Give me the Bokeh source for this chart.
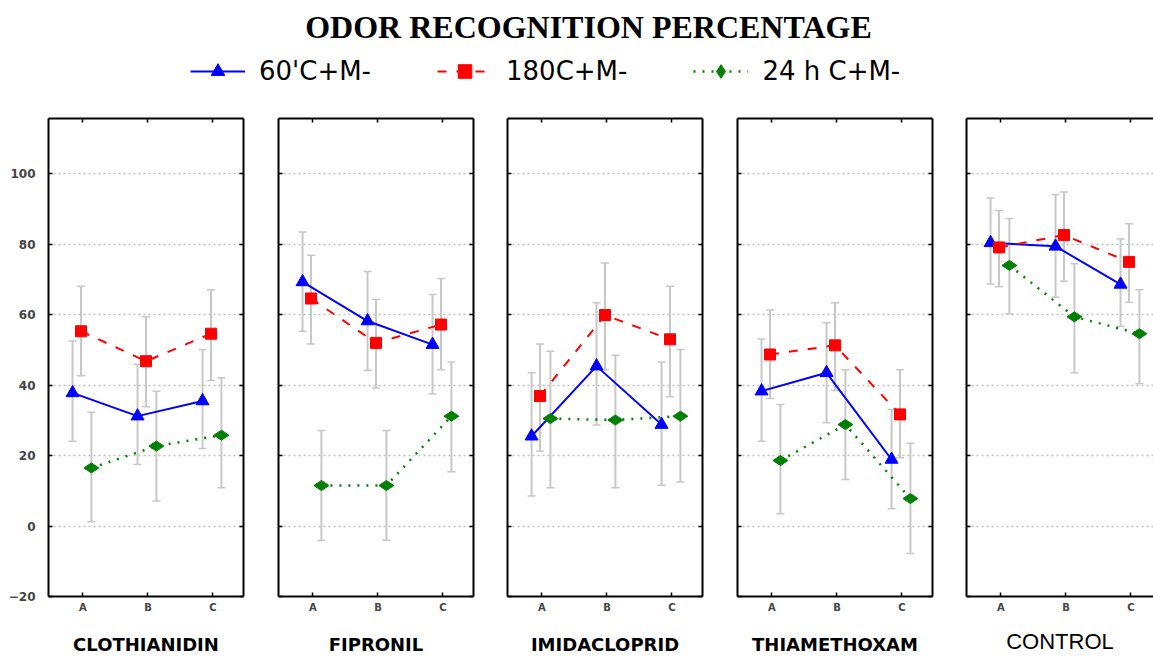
import math
from bokeh.plotting import figure
from bokeh.models import (ColumnDataSource, Whisker, TeeHead, LinearAxis, FixedTicker,
                          Range1d, Legend, LegendItem, Label, Grid)
from bokeh.layouts import column, row
from bokeh.embed import file_html
from bokeh.resources import INLINE

# ---------------- data ----------------
title_text = "ODOR RECOGNITION PERCENTAGE"
categories = ["A", "B", "C"]
panels = ["CLOTHIANIDIN", "FIPRONIL", "IMIDACLOPRID", "THIAMETHOXAM", "CONTROL"]
series_names = ["60'C+M-", "180C+M-", "24 h C+M-"]
y_ticks = [-20, 0, 20, 40, 60, 80, 100]
grid_ticks = [0, 20, 40, 60, 80, 100]

# 60'C+M-  (per panel: A, B, C)
blue_mean = [[37.8, 31.2, 35.5], [69.3, 58.2, 51.5], [25.5, 45.4, 28.8],
             [38.3, 43.5, 18.9], [80.4, 79.4, 68.6]]
blue_hi = [[52.5, 45.9, 50.1], [83.5, 72.3, 65.7], [43.5, 63.4, 46.6],
           [53.1, 57.7, 33.1], [93.1, 94.1, 81.5]]
blue_lo = [[24.1, 17.5, 22.0], [55.3, 44.2, 37.5], [8.5, 28.7, 11.6],
           [24.1, 29.3, 4.9], [68.7, 65.0, 56.7]]

# 180C+M-
red_mean = [[55.3, 46.8, 54.6], [64.6, 52.0, 57.2], [36.9, 59.9, 53.0],
            [48.7, 51.3, 31.7], [79.1, 82.6, 75.0]]
red_hi = [[68.1, 59.4, 67.1], [76.9, 64.3, 70.3], [51.7, 74.7, 68.1],
          [61.3, 63.4, 44.4], [89.6, 94.8, 85.8]]
red_lo = [[42.7, 33.9, 41.3], [51.7, 39.2, 44.4], [21.3, 44.4, 36.7],
          [36.2, 38.5, 19.4], [67.9, 69.5, 63.5]]

# 24 h C+M-
green_mean = [[16.5, 22.7, 25.8], [11.5, 11.5, 31.2], [30.5, 30.1, 31.2],
              [18.6, 28.8, 7.8], [74.0, 59.4, 54.6]]
green_hi = [[32.3, 38.3, 42.1], [27.1, 27.1, 46.6], [49.6, 48.5, 50.1],
            [34.5, 44.4, 23.5], [87.3, 74.5, 67.1]]
green_lo = [[1.2, 7.1, 10.9], [-4.0, -4.0, 15.4], [10.9, 10.9, 12.5],
            [3.5, 13.2, -7.8], [60.3, 43.5, 40.4]]

# ---------------- styles ----------------
series = [
    dict(mean=blue_mean, hi=blue_hi, lo=blue_lo, color="#0000ff", marker="triangle",
         size=13, angle=0.0, dash="solid", width=2, offset=-0.16),
    dict(mean=red_mean, hi=red_hi, lo=red_lo, color="#ff0000", marker="square",
         size=11, angle=0.0, dash="9 10", width=2, offset=-0.03),
    dict(mean=green_mean, hi=green_hi, lo=green_lo, color="#008000", marker="diamond",
         size=15, angle=math.pi / 2, dash="2 7", width=2.5, offset=0.13),
]
ERR = "#c8c8c8"
AX_FONT = "DejaVu Sans"

PX_PER_UNIT = 65.0
X0 = -0.53
HEADER_H = 108
PANEL_H = 657 - HEADER_H


def make_panel(i, name):
    last = i == len(panels) - 1
    left_b = 48 if i == 0 else (18 if i in (1, 3) else 17)
    right_b = 0 if last else 17
    fw = 187 if last else 195
    x1 = X0 + fw / PX_PER_UNIT
    p = figure(width=left_b + fw + right_b, height=PANEL_H,
               x_range=Range1d(X0, x1), y_range=Range1d(-20, 115.7),
               x_axis_type=None, y_axis_type=None, title_location=None,
               output_backend="svg", toolbar_location=None,
               min_border_left=left_b, min_border_right=right_b,
               min_border_top=10, min_border_bottom=60)
    p.outline_line_color = None
    p.background_fill_color = "white"
    p.border_fill_color = "white"

    common = dict(axis_line_color="black", axis_line_width=2,
                  major_tick_in=4, major_tick_out=0,
                  minor_tick_in=0, minor_tick_out=0,
                  major_tick_line_color="black", major_tick_line_width=1.5)
    hidden = dict(major_label_standoff=0, major_label_text_font_size="0px",
                  major_label_text_color=None)

    # left axis
    if i == 0:
        la = LinearAxis(ticker=FixedTicker(ticks=y_ticks), major_label_standoff=13,
                        major_label_text_font=AX_FONT, major_label_text_font_size="12px",
                        major_label_text_font_style="bold", **common)
    else:
        la = LinearAxis(ticker=FixedTicker(ticks=y_ticks), **hidden, **common)
    p.add_layout(la, "left")
    # right axis
    if not last:
        ra = LinearAxis(ticker=FixedTicker(ticks=y_ticks), **hidden, **common)
        p.add_layout(ra, "right")
    # top axis
    ta = LinearAxis(ticker=FixedTicker(ticks=[0, 1, 2]), **hidden, **common)
    p.add_layout(ta, "above")
    # bottom axis with category labels and panel name
    if last:
        lab_font = dict(axis_label_text_font="Liberation Sans", axis_label_text_font_size="22px",
                        axis_label_text_font_style="normal", axis_label_standoff=13)
    else:
        lab_font = dict(axis_label_text_font=AX_FONT, axis_label_text_font_size="18px",
                        axis_label_text_font_style="bold", axis_label_standoff=18)
    ba = LinearAxis(ticker=FixedTicker(ticks=[0, 1, 2]),
                    major_label_overrides={k: c for k, c in enumerate(categories)},
                    major_label_standoff=5, major_label_text_font=AX_FONT,
                    major_label_text_font_size="10px", major_label_text_font_style="bold",
                    axis_label=name, axis_label_text_color="black", **lab_font, **common)
    p.add_layout(ba, "below")

    p.add_layout(Grid(dimension=1, ticker=FixedTicker(ticks=grid_ticks),
                      grid_line_color="#c0c0c0", grid_line_dash="2 3",
                      grid_line_width=1.5))

    for s in series:
        xs = [k + s["offset"] for k in range(len(categories))]
        src = ColumnDataSource(data=dict(x=xs, y=s["mean"][i], hi=s["hi"][i], lo=s["lo"][i]))
        w = Whisker(source=src, base="x", upper="hi", lower="lo", dimension="height",
                    line_color=ERR, line_width=2,
                    upper_head=TeeHead(size=8, line_color=ERR, line_width=1.5),
                    lower_head=TeeHead(size=8, line_color=ERR, line_width=1.5))
        p.add_layout(w)
    for s in series:
        xs = [k + s["offset"] for k in range(len(categories))]
        src = ColumnDataSource(data=dict(x=xs, y=s["mean"][i]))
        p.line("x", "y", source=src, line_color=s["color"], line_width=s["width"],
               line_dash=s["dash"])
        p.scatter("x", "y", source=src, marker=s["marker"], size=s["size"], angle=s["angle"],
                  fill_color=s["color"], line_color=s["color"])
    return p


panel_figs = [make_panel(i, n) for i, n in enumerate(panels)]

# ---------------- header (title + legend) ----------------
hdr = figure(width=1153, height=HEADER_H, x_range=Range1d(0, 1153),
             y_range=Range1d(HEADER_H, 0),
             x_axis_type=None, y_axis_type=None, title_location=None,
             output_backend="svg", toolbar_location=None, min_border=0)
hdr.outline_line_color = None
hdr.add_layout(Label(x=588, y=26, text=title_text, text_font="Liberation Serif",
                     text_font_size="32px", text_font_style="bold",
                     text_align="center", text_baseline="middle", text_color="black"))

items = []
for s, nm in zip(series, series_names):
    # legend-only renderers: a single NaN point, never visible on the header
    esrc = ColumnDataSource(data=dict(x=[float("nan")], y=[float("nan")]))
    lr = hdr.line("x", "y", source=esrc, line_color=s["color"], line_width=s["width"],
                  line_dash=s["dash"])
    sr = hdr.scatter("x", "y", source=esrc, marker=s["marker"], size=s["size"],
                     angle=s["angle"], fill_color=s["color"], line_color=s["color"])
    items.append(LegendItem(label=nm, renderers=[lr, sr]))

legend = Legend(items=items, location=(190, 20), orientation="horizontal",
                glyph_width=55, glyph_height=34, label_standoff=14, spacing=66,
                padding=0, margin=0, border_line_color=None, background_fill_alpha=0,
                label_text_font=AX_FONT, label_text_font_size="26px",
                label_text_color="black")
hdr.add_layout(legend)

layout = column(hdr, row(*panel_figs))
open("out.html", "w").write(file_html(layout, INLINE))
